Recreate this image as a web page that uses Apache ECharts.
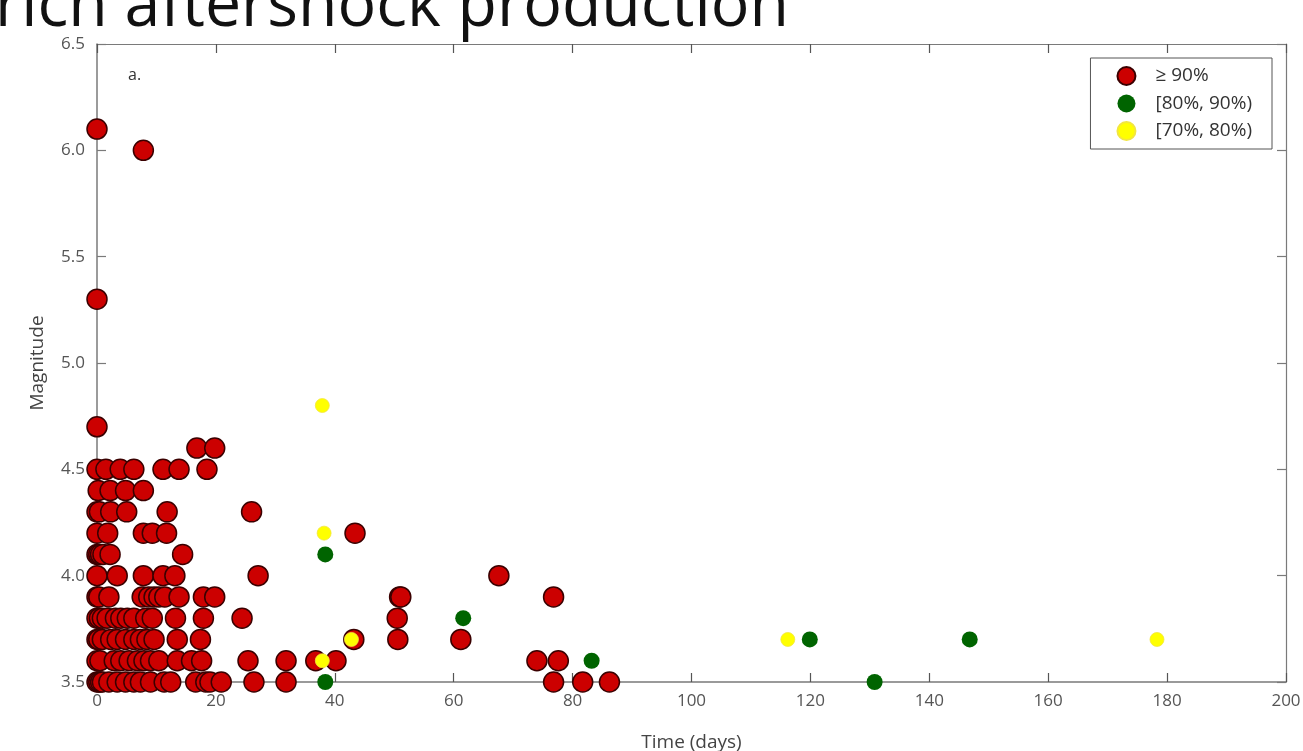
<!DOCTYPE html>
<html>
<head>
<meta charset="utf-8">
<title>Aftershock production</title>
<script src="https://cdn.jsdelivr.net/npm/echarts@6/dist/echarts.min.js"></script>
<style>
  html, body { margin: 0; padding: 0; background: #ffffff; overflow: hidden; }
  #chart { width: 1303px; height: 751px; }
</style>
</head>
<body>
<div id="chart"></div>
<script>
// Time axis ticks (days) and magnitude ticks
const timeTicks = [0, 20, 40, 60, 80, 100, 120, 140, 160, 180, 200];
const magnitudeTicks = [3.5, 4.0, 4.5, 5.0, 5.5, 6.0, 6.5];

// Class names shown in the legend
const classNames = ['\u2265 90%', '[80%, 90%)', '[70%, 80%)'];

// >= 90%: magnitudes and, for each magnitude, the event times in days
const redMagnitudes = [6.1, 6.0, 5.3, 4.7, 4.6, 4.5, 4.4, 4.3, 4.2, 4.1, 4.0, 3.9, 3.8, 3.7, 3.6, 3.5];
const redTimes = [
  [0],
  [7.8],
  [0],
  [0],
  [16.8, 19.8],
  [0, 1.5, 3.9, 6.2, 11.1, 13.8, 18.5],
  [0.2, 2.2, 4.8, 7.8],
  [0, 0.4, 2.3, 5.0, 11.8, 26.0],
  [0, 1.8, 7.8, 9.3, 11.7, 43.4],
  [0, 0.3, 0.6, 1.0, 2.2, 14.4],
  [0, 3.4, 7.8, 11.1, 13.1, 27.1, 67.6],
  [0, 0.3, 2.0, 7.6, 8.7, 9.6, 10.4, 11.4, 13.8, 17.9, 19.8, 50.9, 51.1, 76.8],
  [0, 0.4, 0.9, 1.7, 3.1, 4.0, 5.1, 6.2, 8.2, 9.3, 13.2, 17.9, 24.4, 50.5],
  [0, 0.3, 0.9, 2.3, 3.4, 4.8, 6.2, 7.3, 8.4, 9.6, 13.5, 17.4, 43.2, 50.6, 61.2],
  [0, 0.5, 2.9, 4.0, 5.4, 6.8, 7.9, 9.0, 10.4, 13.5, 15.9, 17.6, 25.4, 31.8, 36.8, 40.2, 74.0, 77.6],
  [0, 0.3, 0.6, 0.9, 2.0, 3.4, 4.8, 6.2, 7.3, 9.0, 11.3, 12.4, 16.6, 18.3, 19.0, 20.9, 26.4, 31.8, 76.8, 81.7, 86.2]
];

// [80%, 90%): event times (days) and magnitudes
const greenTimes = [38.4, 61.6, 83.2, 38.4, 119.9, 146.8, 130.8];
const greenMagnitudes = [4.1, 3.8, 3.6, 3.5, 3.7, 3.7, 3.5];

// [70%, 80%): event times (days) and magnitudes
const yellowTimes = [37.9, 38.2, 42.8, 37.9, 116.2, 178.3];
const yellowMagnitudes = [4.8, 4.2, 3.7, 3.6, 3.7, 3.7];

const redData = [];
redMagnitudes.forEach(function (m, i) {
  redTimes[i].forEach(function (t) { redData.push([t, m]); });
});
const greenData = greenTimes.map(function (t, i) { return [t, greenMagnitudes[i]]; });
const yellowData = yellowTimes.map(function (t, i) { return [t, yellowMagnitudes[i]]; });

const axisColor = '#7a7a7a';
const labelColor = '#555555';
const fontFamily = '"Open Sans", "Noto Sans", sans-serif';

const baseX = {
  type: 'value', min: 0, max: 200, interval: 20,
  splitLine: { show: false },
  axisLine: { show: true, onZero: false, lineStyle: { color: axisColor, width: 1.5 } },
  axisTick: { show: true, inside: true, length: 9, lineStyle: { color: '#555', width: 1.2 } }
};
const baseY = {
  type: 'value', min: 3.5, max: 6.5, interval: 0.5,
  splitLine: { show: false },
  axisLine: { show: true, onZero: false, lineStyle: { color: axisColor, width: 1.5 } },
  axisTick: { show: true, inside: true, length: 9, lineStyle: { color: axisColor, width: 1.2 } }
};

const chart = echarts.init(document.getElementById('chart'), null, { renderer: 'canvas' });

chart.setOption({
  backgroundColor: '#ffffff',
  animation: false,
  textStyle: { fontFamily: fontFamily },
  grid: { left: 97, right: 17, top: 44, bottom: 69, containLabel: false, outerBoundsMode: 'none' },
  graphic: [
    {
      // page heading, partly running off the top-left edge
      type: 'text', left: -5, top: -25, silent: true, scaleX: 0.99,
      style: { text: 'rich aftershock production', font: '400 65px "Open Sans", "Noto Sans", sans-serif', fill: '#111111' }
    },
    {
      type: 'text', left: 128, top: 67, silent: true,
      style: { text: 'a.', font: '16px "Open Sans", "Noto Sans", sans-serif', fill: '#333333' }
    }
  ],
  legend: {
    data: classNames,
    orient: 'vertical',
    right: 31, top: 58,
    padding: [8, 20, 8, 26],
    itemWidth: 18, itemHeight: 18, itemGap: 8,
    icon: 'circle',
    backgroundColor: '#ffffff',
    borderColor: '#555555', borderWidth: 1, borderRadius: 0,
    textStyle: { fontSize: 19, color: '#333333', fontFamily: fontFamily, padding: [0, 0, 0, 15] }
  },
  xAxis: [
    Object.assign({}, baseX, {
      position: 'bottom',
      name: 'Time (days)', nameLocation: 'middle', nameGap: 51,
      nameTextStyle: { fontSize: 19, color: '#444444', fontFamily: fontFamily },
      axisLabel: {
        color: labelColor, fontSize: 17, margin: 11, fontFamily: fontFamily,
        formatter: function (v) { return timeTicks.indexOf(v) >= 0 ? String(v) : ''; }
      }
    }),
    Object.assign({}, baseX, {
      position: 'top',
      axisLine: { show: true, onZero: false, lineStyle: { color: axisColor, width: 1.2 } },
      axisLabel: { show: false }
    })
  ],
  yAxis: [
    Object.assign({}, baseY, {
      position: 'left',
      name: 'Magnitude', nameLocation: 'middle', nameGap: 50,
      nameTextStyle: { fontSize: 19, color: '#444444', fontFamily: fontFamily },
      axisLabel: {
        color: labelColor, fontSize: 17, margin: 12, fontFamily: fontFamily,
        formatter: function (v) {
          const s = v.toFixed(1);
          return magnitudeTicks.some(function (t) { return t.toFixed(1) === s; }) ? s : '';
        }
      }
    }),
    Object.assign({}, baseY, {
      position: 'right',
      axisLine: { show: true, onZero: false, lineStyle: { color: axisColor, width: 1.2 } },
      axisLabel: { show: false }
    })
  ],
  series: [
    {
      name: classNames[0], type: 'scatter', xAxisIndex: 0, yAxisIndex: 0,
      symbol: 'circle', symbolSize: 20, z: 2,
      itemStyle: { color: '#cc0000', borderColor: '#3a0000', borderWidth: 1.5, opacity: 1 },
      data: redData
    },
    {
      name: classNames[1], type: 'scatter', xAxisIndex: 0, yAxisIndex: 0,
      symbol: 'circle', symbolSize: 16, z: 3,
      itemStyle: { color: '#006400', borderWidth: 0, opacity: 1 },
      data: greenData
    },
    {
      name: classNames[2], type: 'scatter', xAxisIndex: 0, yAxisIndex: 0,
      symbol: 'circle', symbolSize: 14, z: 4,
      itemStyle: { color: '#ffff00', borderColor: '#f2e640', borderWidth: 0.8, opacity: 1 },
      data: yellowData
    }
  ]
});
</script>
</body>
</html>
